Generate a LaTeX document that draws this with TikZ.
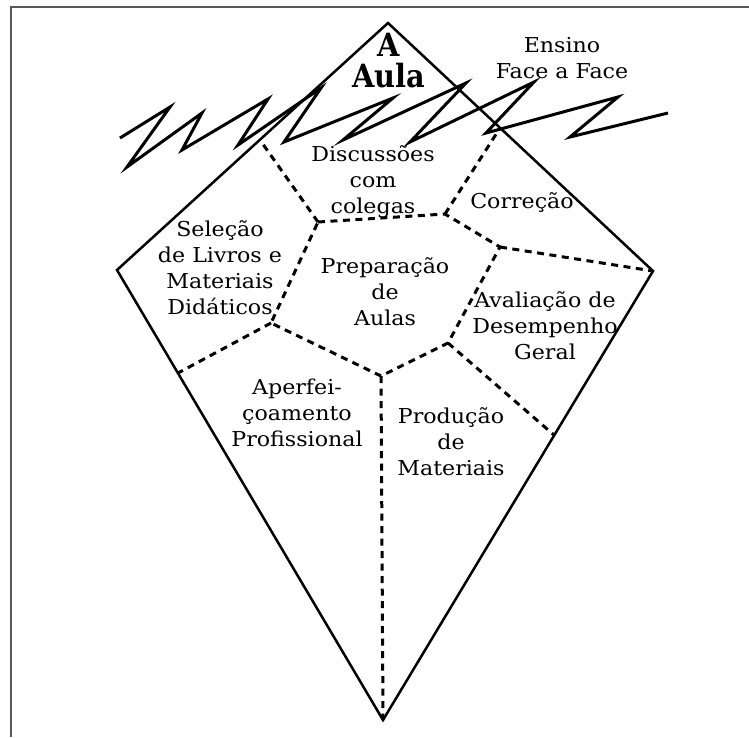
\documentclass[tikz,border=0pt]{standalone}
\usepackage{fontspec}
\setmainfont{DejaVu Serif}[FakeStretch=1.08]
\newfontfamily\titlefont{DejaVu Serif}[FakeStretch=0.9]
\begin{document}
\begin{tikzpicture}[x=1pt,y=-1pt,
  edge/.style={line width=2.5pt, line join=miter},
  zig/.style={line width=3pt, line join=miter, miter limit=20},
  divider/.style={line width=3pt, dash pattern=on 7pt off 5.5pt},
  lbl/.style={align=center, inner sep=0pt, font=\fontsize{20.5}{26}\selectfont},
  ttl/.style={align=center, inner sep=0pt, font=\titlefont\fontsize{32}{31}\selectfont\bfseries}]
\useasboundingbox (0,0) rectangle (749,737);
% frame (partly cropped)
\coordinate (fr1) at (749,7);
\coordinate (fr2) at (11,7);
\coordinate (fr3) at (11,737);
\draw[line width=1.8pt, black!65] (fr1) -- (fr2) -- (fr3);
% kite
\coordinate (top) at (388,23);
\coordinate (lft) at (117,270);
\coordinate (rgt) at (653,271);
\coordinate (bot) at (383,720);
\draw[edge] (top) -- (lft) -- (bot) -- (rgt) -- cycle;
% zigzag
\coordinate (z1) at (120,138);
\coordinate (z2) at (170,107);
\coordinate (z3) at (127,167);
\coordinate (z4) at (202,113);
\coordinate (z5) at (182,150);
\coordinate (z6) at (268,99);
\coordinate (z7) at (238,145);
\coordinate (z8) at (321,88);
\coordinate (z9) at (284,142);
\coordinate (z10) at (393,98);
\coordinate (z11) at (343,140);
\coordinate (z12) at (466,83);
\coordinate (z13) at (410,142);
\coordinate (z14) at (534,82);
\coordinate (z15) at (486,133);
\coordinate (z16) at (618,97);
\coordinate (z17) at (570,137);
\coordinate (z18) at (668,113);
\draw[zig] (z1) -- (z2) -- (z3) -- (z4) -- (z5) -- (z6) -- (z7) -- (z8) -- (z9)
  -- (z10) -- (z11) -- (z12) -- (z13) -- (z14) -- (z15) -- (z16) -- (z17) -- (z18);
% inner cell vertices
\coordinate (TL) at (318,222);
\coordinate (TR) at (445,214);
\coordinate (R) at (500,247);
\coordinate (BR) at (448,343);
\coordinate (B) at (381,376);
\coordinate (BL) at (271,323);
% ends on the kite edges
\coordinate (eTL) at (260,140);
\coordinate (eTR) at (500,128);
\coordinate (eBR) at (554,435);
\coordinate (eBL) at (178,373);
\draw[divider] (TL) -- (TR) -- (R) -- (BR) -- (B) -- (BL) -- cycle;
\draw[divider] (TL) -- (eTL);
\draw[divider] (TR) -- (eTR);
\draw[divider] (R) -- (rgt);
\draw[divider] (BR) -- (eBR);
\draw[divider] (B) -- (bot);
\draw[divider] (BL) -- (eBL);
% labels
\node[ttl] (aula) at (389,61) {A\\Aula};
\node[lbl] (ensino) at (562,58) {Ensino\\Face a Face};
\node[lbl] (disc) at (373,182) {Discussões\\com\\colegas};
\node[lbl] (corr) at (522,203) {Correção};
\node[lbl] (sel) at (220,268) {Seleção\\de Livros e\\Materiais\\Didáticos};
\node[lbl] (prep) at (385,292) {Preparação\\de\\Aulas};
\node[lbl] (aval) at (545,326) {Avaliação de\\Desempenho\\Geral};
\node[lbl] (aper) at (297,413) {Aperfei-\\çoamento\\Profissional};
\node[lbl] (prod) at (451,442) {Produção\\de\\Materiais};
\end{tikzpicture}
\end{document}
